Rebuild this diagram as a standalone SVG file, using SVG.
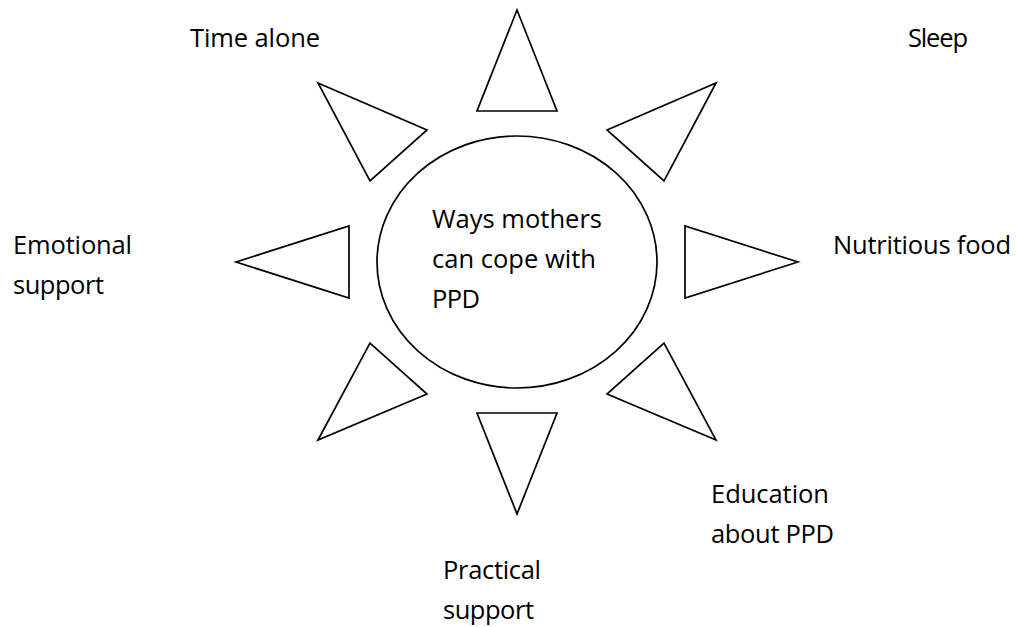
<svg xmlns="http://www.w3.org/2000/svg" width="1016" height="627" viewBox="0 0 1016 627">
  <style>
    .ray { fill: #ffffff; stroke: #000000; stroke-width: 1.7; stroke-linejoin: miter; }
    .hub { fill: #ffffff; stroke: #000000; stroke-width: 1.7; }
    .lbl { font-family: "Open Sans", "Liberation Sans", sans-serif; font-size: 25.5px; fill: #000000; }
  </style>
  <rect width="1016" height="627" fill="#ffffff"/>

  <!-- centre ellipse with its title -->
  <g id="hub">
    <ellipse class="hub" cx="517" cy="262" rx="140" ry="126"/>
    <text class="lbl" x="432" y="228" textLength="170">Ways mothers</text>
    <text class="lbl" x="432" y="268" textLength="164">can cope with</text>
    <text class="lbl" x="432" y="308" textLength="48">PPD</text>
  </g>

  <!-- sun rays around the hub -->
  <g id="rays">
    <polygon id="ray-top" class="ray" points="517,10 557,111 477,111"/>
    <polygon id="ray-top-right" class="ray" points="716,83 664,181 607,130"/>
    <polygon id="ray-right" class="ray" points="798,262 685,298 685,226"/>
    <polygon id="ray-bottom-right" class="ray" points="716,440 607,394 664,343"/>
    <polygon id="ray-bottom" class="ray" points="517,514 477,413 557,413"/>
    <polygon id="ray-bottom-left" class="ray" points="318,440 370,343 427,394"/>
    <polygon id="ray-left" class="ray" points="236,262 349,226 349,298"/>
    <polygon id="ray-top-left" class="ray" points="318,83 427,130 370,181"/>
  </g>

  <!-- coping strategies -->
  <g id="time-alone">
    <text class="lbl" x="190" y="47" textLength="130">Time alone</text>
  </g>
  <g id="sleep">
    <text class="lbl" x="908" y="47" textLength="60">Sleep</text>
  </g>
  <g id="emotional-support">
    <text class="lbl" x="13" y="254" textLength="119">Emotional</text>
    <text class="lbl" x="13" y="294" textLength="91">support</text>
  </g>
  <g id="nutritious-food">
    <text class="lbl" x="833" y="254" textLength="178">Nutritious food</text>
  </g>
  <g id="education">
    <text class="lbl" x="711" y="503" textLength="118">Education</text>
    <text class="lbl" x="711" y="543" textLength="123">about PPD</text>
  </g>
  <g id="practical-support">
    <text class="lbl" x="443" y="579" textLength="98">Practical</text>
    <text class="lbl" x="443" y="619" textLength="91">support</text>
  </g>
</svg>
